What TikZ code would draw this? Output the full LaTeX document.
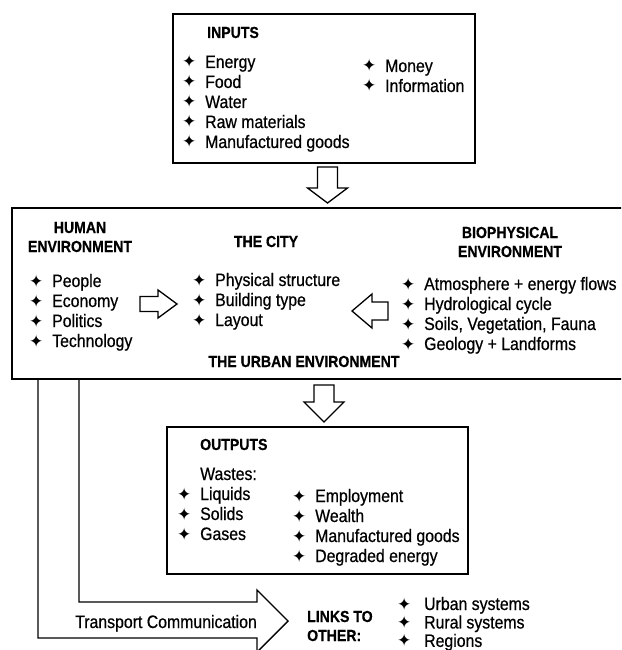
\documentclass[tikz,border=0pt]{standalone}
\usepackage{fontspec}
\setmainfont{Liberation Sans}[FakeStretch=0.88, FakeBold=0.6]
\newfontfamily\symfont{DejaVu Sans}
\usetikzlibrary{calc}
\newcommand{\itemfont}{\fontsize{18}{20}\selectfont}
\newcommand{\headfont}{\fontsize{16}{19}\selectfont\bfseries}
\newcommand{\bul}{\makebox[23pt][l]{\symfont\fontsize{17}{17}\selectfont ✦}}

\begin{document}
\begin{tikzpicture}[x=1pt, y=-1pt,
    frame/.style={draw, line width=1.4pt, inner sep=0pt},
    hollow/.style={draw, line width=1.3pt, line join=miter, fill=white},
    head/.style={inner sep=0pt, font=\headfont},
    lst/.style={anchor=base west, inner sep=0pt, font=\itemfont}]

    \useasboundingbox (0,0) rectangle (621,650);
    \clip (0,0) rectangle (621,650);

    % boxes
    \node[frame, minimum width=302, minimum height=149] (inputs) at (324,88.5) {};
    \node[frame, minimum width=628, minimum height=171] (urban) at (326,293.5) {};
    \node[frame, minimum width=301, minimum height=147] (outputs) at (317.5,500.5) {};

    % inputs
    \node[head, anchor=base west] (intitle) at (207,38) {INPUTS};
    \node[lst] (inlist) at (182,68) {\begin{tabular}[t]{@{}l@{}}\bul Energy\\ \bul Food\\ \bul Water\\ \bul Raw materials\\ \bul Manufactured goods\end{tabular}};
    \node[lst] (inlist2) at (362,72) {\begin{tabular}[t]{@{}l@{}}\bul Money\\ \bul Information\end{tabular}};

    % urban environment
    \node[head, anchor=base] (human) at (80,233) {\begin{tabular}[t]{@{}c@{}}HUMAN\\ ENVIRONMENT\end{tabular}};
    \node[lst] (humlist) at (29,287) {\begin{tabular}[t]{@{}l@{}}\bul People\\ \bul Economy\\ \bul Politics\\ \bul Technology\end{tabular}};
    \node[head, anchor=base] (city) at (266,247) {THE CITY};
    \node[lst] (citylist) at (192,286) {\begin{tabular}[t]{@{}l@{}}\bul Physical structure\\ \bul Building type\\ \bul Layout\end{tabular}};
    \node[head, anchor=base] (bio) at (510,238) {\begin{tabular}[t]{@{}c@{}}BIOPHYSICAL\\ ENVIRONMENT\end{tabular}};
    \node[lst] (biolist) at (401,290) {\begin{tabular}[t]{@{}l@{}}\bul Atmosphere + energy flows\\ \bul Hydrological cycle\\ \bul Soils, Vegetation, Fauna\\ \bul Geology + Landforms\end{tabular}};
    \node[head, anchor=base] (urbtitle) at (304,367) {THE URBAN ENVIRONMENT};

    % outputs
    \node[head, anchor=base west] (outtitle) at (200,450) {OUTPUTS};
    \node[lst] (outlist) at (177,480) {\begin{tabular}[t]{@{}l@{}}\hspace{23pt}Wastes:\\ \bul Liquids\\ \bul Solids\\ \bul Gases\end{tabular}};
    \node[lst] (outlist2) at (292,502) {\begin{tabular}[t]{@{}l@{}}\bul Employment\\ \bul Wealth\\ \bul Manufactured goods\\ \bul Degraded energy\end{tabular}};

    % hollow arrows
    \draw[hollow] (327.5,203) -- ++(-20,-15) -- ++(10,0) -- ++(0,-21) -- ++(20,0) -- ++(0,21) -- ++(10,0) -- cycle;
    \draw[hollow] (177,304) -- ++(-19,-14) -- ++(0,6.5) -- ++(-18,0) -- ++(0,15) -- ++(18,0) -- ++(0,6.5) -- cycle;
    \draw[hollow] (352,311) -- ++(20,-17) -- ++(0,8) -- ++(16,0) -- ++(0,18) -- ++(-16,0) -- ++(0,8) -- cycle;
    \draw[hollow] (324,422) -- ++(-20,-20) -- ++(10,0) -- ++(0,-17) -- ++(20,0) -- ++(0,17) -- ++(10,0) -- cycle;

    % links to other systems
    \coordinate (outer) at (38,379);
    \coordinate (inner) at (79,379);
    \draw[line width=1.4pt] (inner) |- (257,602) -- (257,590) -- (288,621) -- (257,652) -- (257,638) -| (outer);
    \node[lst] (transport) at (75,628) {Transport Communication};
    \node[head, anchor=base west] (links) at (307,622) {\begin{tabular}[t]{@{}l@{}}LINKS TO\\ OTHER:\end{tabular}};
    \node[lst, font=\fontsize{18}{18}\selectfont] (linklist) at (397,610) {\begin{tabular}[t]{@{}l@{}}\bul\hspace{4pt}Urban systems\\ \bul\hspace{4pt}Rural systems\\ \bul\hspace{4pt}Regions\end{tabular}};

\end{tikzpicture}
\end{document}
